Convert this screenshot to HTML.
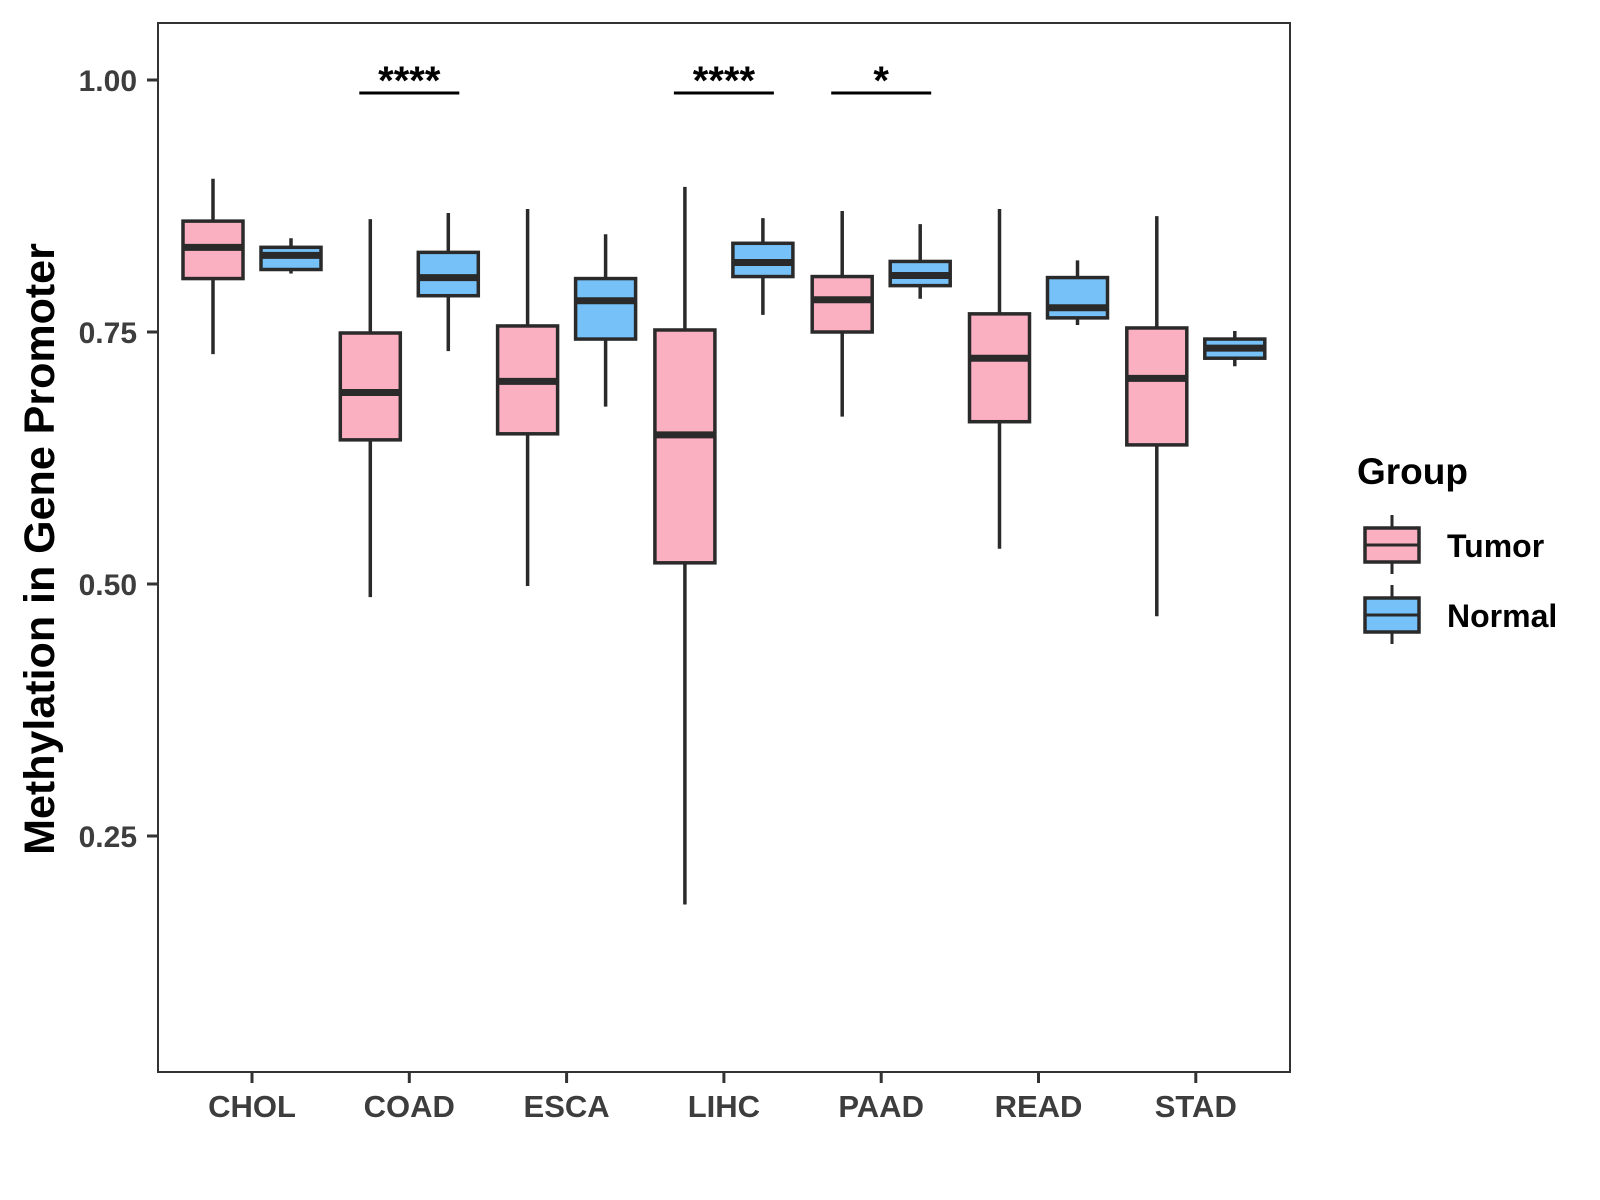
<!DOCTYPE html>
<html><head><meta charset="utf-8"><style>
html,body{margin:0;padding:0;background:#fff;}
svg{display:block;font-family:"Liberation Sans",Arial,sans-serif;font-weight:bold;}
</style></head><body>
<svg id="chart" width="1600" height="1200" viewBox="0 0 1600 1200" xmlns="http://www.w3.org/2000/svg">
<rect x="158" y="23" width="1132" height="1049" fill="#fff" stroke="#333" stroke-width="2"/>
<g id="yaxis"></g>
<g id="xaxis"></g>
<g id="boxes"></g>
<g id="sig"></g>
<text transform="translate(54,549) rotate(-90)" text-anchor="middle" font-size="43" fill="#000">Methylation in Gene Promoter</text>
<g transform="translate(-6,0)">
<text x="1363" y="484" font-size="37" fill="#000">Group</text>
<g>
<line x1="1398" y1="515" x2="1398" y2="574" stroke="#2a2a2a" stroke-width="3"/>
<rect x="1371" y="528" width="54" height="34" fill="#fbb0c2" stroke="#2a2a2a" stroke-width="3.5"/>
<line x1="1371" y1="545" x2="1425" y2="545" stroke="#2a2a2a" stroke-width="3"/>
<text x="1453" y="557" font-size="32" fill="#000">Tumor</text>
</g>
<g>
<line x1="1398" y1="585" x2="1398" y2="644" stroke="#2a2a2a" stroke-width="3"/>
<rect x="1371" y="598" width="54" height="34" fill="#76c2f8" stroke="#2a2a2a" stroke-width="3.5"/>
<line x1="1371" y1="615" x2="1425" y2="615" stroke="#2a2a2a" stroke-width="3"/>
<text x="1453" y="627" font-size="32" fill="#000">Normal</text>
</g>
</g>
</svg>
<script>
const categories = ["CHOL","COAD","ESCA","LIHC","PAAD","READ","STAD"];
const tumorLow  = [0.728,0.487,0.498,0.182,0.666,0.535,0.468];
const tumorQ1   = [0.803,0.643,0.649,0.521,0.750,0.661,0.638];
const tumorMed  = [0.834,0.690,0.701,0.648,0.782,0.724,0.704];
const tumorQ3   = [0.860,0.749,0.756,0.752,0.805,0.768,0.754];
const tumorHigh = [0.902,0.862,0.872,0.894,0.870,0.872,0.865];
const normalLow  = [0.808,0.731,0.676,0.767,0.783,0.757,0.716];
const normalQ1   = [0.812,0.786,0.743,0.805,0.796,0.764,0.724];
const normalMed  = [0.826,0.804,0.781,0.819,0.806,0.774,0.734];
const normalQ3   = [0.834,0.829,0.803,0.838,0.820,0.804,0.743];
const normalHigh = [0.843,0.868,0.847,0.863,0.857,0.821,0.751];
const yTicks = [0.25,0.50,0.75,1.00];
const yTickLabels = ["0.25","0.50","0.75","1.00"];
const sigCategories = ["COAD","LIHC","PAAD"];
const sigLabels = ["****","****","*"];

const NS="http://www.w3.org/2000/svg";
function y(v){return 80+(1-v)*1008;}
function x(i){return 252+i*157.3;}
function mk(tag,attrs,parent){const e=document.createElementNS(NS,tag);for(const k in attrs)e.setAttribute(k,attrs[k]);parent.appendChild(e);return e;}

const ya=document.getElementById('yaxis');
yTicks.forEach((t,i)=>{
  const tk=mk('line',{x1:147,x2:158,y1:y(t),y2:y(t),stroke:'#333','stroke-width':3},ya);
  
  
  const lb=mk('text',{x:137,y:y(t)+11,'text-anchor':'end','font-size':30,fill:'#3d3d3d'},ya);
  lb.textContent=yTickLabels[i];
  
  
});
const xa=document.getElementById('xaxis');
categories.forEach((c,i)=>{
  const tk=mk('line',{x1:x(i),x2:x(i),y1:1072,y2:1083,stroke:'#333','stroke-width':3},xa);
  
  
  const lb=mk('text',{x:x(i),y:1117,'text-anchor':'middle','font-size':31,fill:'#3d3d3d'},xa);
  lb.textContent=c;
  
  
});
const bg=document.getElementById('boxes');
function box(cx,lo,q1,md,q3,hi,fill,name){
  const g=mk('g',{},bg);
  
  
  mk('line',{x1:cx,x2:cx,y1:y(hi),y2:y(lo),stroke:'#2a2a2a','stroke-width':3.5},g);
  mk('rect',{x:cx-30,y:y(q3),width:60,height:y(q1)-y(q3),fill:fill,stroke:'#2a2a2a','stroke-width':3.5},g);
  mk('line',{x1:cx-30,x2:cx+30,y1:y(md),y2:y(md),stroke:'#2a2a2a','stroke-width':7},g);
}
categories.forEach((c,i)=>{
  box(x(i)-39,tumorLow[i],tumorQ1[i],tumorMed[i],tumorQ3[i],tumorHigh[i],'#fbb0c2','box-'+c.toLowerCase()+'-tumor');
  box(x(i)+39,normalLow[i],normalQ1[i],normalMed[i],normalQ3[i],normalHigh[i],'#76c2f8','box-'+c.toLowerCase()+'-normal');
});
const sg=document.getElementById('sig');
sigCategories.forEach((c,j)=>{
  const i=categories.indexOf(c);
  const ln=mk('line',{x1:x(i)-50,x2:x(i)+50,y1:93,y2:93,stroke:'#000','stroke-width':3},sg);
  
  
  const t=mk('text',{x:x(i),y:94,'text-anchor':'middle','font-size':40,fill:'#000'},sg);
  t.textContent=sigLabels[j];
  
  
});
</script>
</body></html>
